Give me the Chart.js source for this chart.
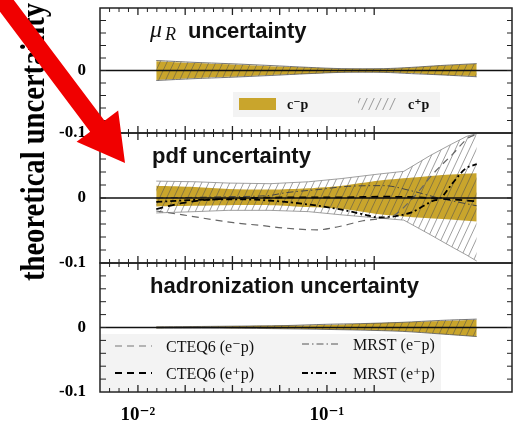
<!DOCTYPE html>
<html>
<head>
<meta charset="utf-8">
<script src="https://cdn.jsdelivr.net/npm/chart.js@4.4.1/dist/chart.umd.min.js"></script>
<style>
  html, body { margin: 0; padding: 0; background: #fff; }
  #wrap { width: 516px; height: 421px; }
</style>
</head>
<body>
<div id="wrap"><canvas id="graph" width="516" height="421"></canvas></div>
<script>
// -------------------------
// DATA
// -------------------------
const xLabelTicks = [0.01, 0.1];
const xLabelText = ["10\u207B\u00B2", "10\u207B\u00B9"];
const yLabelTicks = [-0.1, 0];

// mu_R uncertainty
const muX    = [0.0125, 0.02, 0.03, 0.05, 0.08, 0.12, 0.2, 0.28, 0.4, 0.62];
const muCmUp = [0.015, 0.012, 0.010, 0.007, 0.005, 0.003, 0.003, 0.005, 0.008, 0.011];
const muCmLo = [-0.015, -0.012, -0.010, -0.007, -0.005, -0.003, -0.003, -0.004, -0.007, -0.009];
const muCpUp = [0.016, 0.013, 0.011, 0.008, 0.005, 0.003, 0.003, 0.005, 0.008, 0.011];
const muCpLo = [-0.016, -0.013, -0.011, -0.008, -0.005, -0.003, -0.003, -0.005, -0.007, -0.010];

// pdf uncertainty
const pdfX      = [0.0125, 0.02, 0.03, 0.05, 0.08, 0.12, 0.19, 0.3, 0.45, 0.62];
const pdfCmUp   = [0.019, 0.017, 0.014, 0.013, 0.015, 0.019, 0.027, 0.032, 0.036, 0.038];
const pdfCmLo   = [-0.013, -0.012, -0.011, -0.011, -0.014, -0.017, -0.025, -0.030, -0.033, -0.036];
const pdfEnvX   = [0.0125, 0.02, 0.03, 0.05, 0.08, 0.12, 0.19, 0.255, 0.35, 0.45, 0.55, 0.62];
const pdfCpUp   = [0.026, 0.025, 0.023, 0.022, 0.025, 0.030, 0.037, 0.041, 0.065, 0.082, 0.095, 0.099];
const pdfCpLo   = [-0.023, -0.021, -0.019, -0.019, -0.021, -0.026, -0.031, -0.034, -0.056, -0.074, -0.088, -0.097];

const cteqMinusX = [0.0125, 0.0173, 0.032, 0.044, 0.0585, 0.0885, 0.12, 0.155, 0.19, 0.223, 0.285, 0.364, 0.464, 0.557, 0.62];
const cteqMinusY = [-0.020, -0.026, -0.038, -0.042, -0.046, -0.049, -0.043, -0.035, -0.032, -0.028, 0.0, 0.037, 0.068, 0.092, 0.098];
const cteqPlusX  = [0.0125, 0.017, 0.025, 0.04, 0.07, 0.12, 0.2, 0.3, 0.45, 0.62];
const cteqPlusY  = [-0.017, -0.008, -0.002, 0.0, 0.001, 0.001, 0.002, 0.001, -0.002, -0.005];
const mrstMinusX = [0.0125, 0.03, 0.05, 0.06, 0.09, 0.13, 0.2, 0.28, 0.39, 0.62];
const mrstMinusY = [0.0, 0.002, 0.004, 0.008, 0.013, 0.018, 0.019, 0.011, 0.0, -0.012];
const mrstPlusX  = [0.0125, 0.02, 0.035, 0.06, 0.09, 0.12, 0.16, 0.19, 0.23, 0.28, 0.36, 0.40, 0.46, 0.54, 0.62];
const mrstPlusY  = [-0.006, -0.003, -0.002, -0.006, -0.012, -0.018, -0.026, -0.030, -0.028, -0.022, -0.005, 0.0, 0.022, 0.045, 0.052];

// hadronization uncertainty
const hadX    = [0.0125, 0.03, 0.06, 0.1, 0.15, 0.25, 0.4, 0.62];
const hadCmUp = [0.001, 0.002, 0.003, 0.004, 0.006, 0.008, 0.010, 0.012];
const hadCmLo = [-0.001, -0.001, -0.002, -0.003, -0.004, -0.006, -0.010, -0.014];
const hadCpUp = [0.001, 0.002, 0.003, 0.005, 0.006, 0.008, 0.011, 0.013];
const hadCpLo = [-0.001, -0.001, -0.002, -0.003, -0.004, -0.006, -0.010, -0.014];

const GOLD = "#c9a52c";
const SERIF = '"Liberation Serif", "DejaVu Serif", serif';
const SANS = '"Liberation Sans", Arial, sans-serif';

// -------------------------
// HELPERS
// -------------------------
function makeHatch() {
  const c = document.createElement("canvas");
  c.width = 7; c.height = 15;
  const g = c.getContext("2d");
  g.strokeStyle = "rgba(80,80,80,0.7)";
  g.lineWidth = 0.8;
  for (const dx of [-7, 0, 7]) {
    g.beginPath();
    g.moveTo(dx, 15);
    g.lineTo(dx + 7, 0);
    g.stroke();
  }
  return g.createPattern(c, "repeat");
}
const hatch = makeHatch();

function pts(xs, ys) {
  return xs.map((x, i) => ({ x: x, y: ys[i] }));
}

function band(xs, lo, up, axis, bg, edge, order, tension) {
  const common = {
    yAxisID: axis, pointRadius: 0, order: order, tension: tension,
    borderWidth: edge ? 0.8 : 0, borderColor: edge || "rgba(0,0,0,0)"
  };
  return [
    Object.assign({}, common, { data: pts(xs, lo), fill: false }),
    Object.assign({}, common, { data: pts(xs, up), fill: "-1", backgroundColor: bg })
  ];
}

function curve(xs, ys, color, width, dash) {
  return {
    yAxisID: "yPdf", data: pts(xs, ys), pointRadius: 0, order: 1,
    borderColor: color, borderWidth: width, borderDash: dash,
    fill: false, cubicInterpolationMode: "monotone"
  };
}

function yAxis(weight) {
  return {
    type: "linear", position: "left", stack: "panels", stackWeight: weight,
    min: -0.1, max: 0.1,
    grid: { display: false, drawTicks: false },
    border: { display: false },
    afterBuildTicks: s => { s.ticks = yLabelTicks.map(v => ({ value: v })); },
    afterFit: s => { s.width = 100; s.paddingTop = 0; s.paddingBottom = 0; },
    ticks: {
      padding: 14, color: "#000",
      font: { family: SERIF, size: 17, weight: "bold" },
      callback: v => (v === 0 ? "0" : "-0.1")
    }
  };
}

// -------------------------
// DECORATION PLUGIN
// -------------------------
const panelsPlugin = {
  id: "panels",
  beforeDatasetsDraw(chart) {
    const { ctx, chartArea: a } = chart;
    const sMu = chart.scales.yMu, sHad = chart.scales.yHad;
    ctx.save();
    ctx.fillStyle = "#f3f3f3";
    ctx.fillRect(233, sMu.top + 84, 207, 25);
    ctx.fillRect(a.left + 1, sHad.top + 71, 340, sHad.bottom - sHad.top - 72);
    ctx.restore();
  },
  afterDatasetsDraw(chart) {
    const { ctx, chartArea: a } = chart;
    const sx = chart.scales.x;
    const panels = [chart.scales.yMu, chart.scales.yPdf, chart.scales.yHad];
    ctx.save();

    // zero lines
    ctx.strokeStyle = "#111";
    ctx.lineWidth = 1.5;
    panels.forEach(s => {
      const y = s.getPixelForValue(0);
      ctx.beginPath(); ctx.moveTo(a.left, y); ctx.lineTo(a.right, y); ctx.stroke();
    });

    // frames
    ctx.lineWidth = 1.5;
    ctx.strokeStyle = "#222";
    panels.forEach(s => ctx.strokeRect(a.left, s.top, a.right - a.left, s.bottom - s.top));

    // y ticks (inside, left and right)
    ctx.lineWidth = 1;
    panels.forEach(s => {
      for (let k = -4; k <= 4; k++) {
        const y = s.getPixelForValue(k * 0.02);
        ctx.beginPath();
        ctx.moveTo(a.left, y); ctx.lineTo(a.left + 6, y);
        ctx.moveTo(a.right, y); ctx.lineTo(a.right - 5, y);
        ctx.stroke();
      }
    });

    // x ticks on every horizontal border
    const borders = [
      { y: panels[0].top, up: false, down: true },
      { y: panels[0].bottom, up: true, down: true },
      { y: panels[1].bottom, up: true, down: true },
      { y: panels[2].bottom, up: true, down: false }
    ];
    for (let k = -5; k <= 25; k++) {
      const px = sx.getPixelForValue(Math.pow(10, -2 + k / 20));
      if (px <= a.left + 1 || px >= a.right - 1) continue;
      const len = k % 5 === 0 ? 7 : 4;
      ctx.lineWidth = k % 5 === 0 ? 1.3 : 1;
      borders.forEach(b => {
        ctx.beginPath();
        ctx.moveTo(px, b.up ? b.y - len : b.y);
        ctx.lineTo(px, b.down ? b.y + len : b.y);
        ctx.stroke();
      });
    }

    // panel titles
    ctx.fillStyle = "#111";
    ctx.textBaseline = "alphabetic";
    ctx.textAlign = "left";
    ctx.font = "italic 24px " + SERIF;
    ctx.fillText("\u03BC", 150, panels[0].top + 29);
    ctx.font = "italic 18px " + SERIF;
    ctx.fillText("R", 165, panels[0].top + 32);
    ctx.font = "bold 22px " + SANS;
    ctx.fillText("uncertainty", 188, panels[0].top + 30);
    ctx.fillText("pdf uncertainty", 152, panels[1].top + 30);
    ctx.fillText("hadronization uncertainty", 150, panels[2].top + 30);

    // legend of mu_R panel
    const ly = panels[0].top + 90;
    ctx.fillStyle = GOLD;
    ctx.fillRect(239, ly, 37, 12);
    ctx.fillStyle = hatch;
    ctx.fillRect(358, ly, 38, 12);
    ctx.fillStyle = "#111";
    ctx.font = "bold 14px " + SERIF;
    ctx.fillText("c\u207Bp", 287, ly + 11);
    ctx.fillText("c\u207Ap", 408, ly + 11);

    // legend of hadronization panel
    const hy = panels[2].top;
    const entries = [
      { x: 115, y: hy + 83, color: "#777", w: 1.2, dash: [7, 5], text: "CTEQ6 (e\u207Bp)" },
      { x: 115, y: hy + 110, color: "#000", w: 2, dash: [7, 5], text: "CTEQ6 (e\u207Ap)" },
      { x: 302, y: hy + 81, color: "#555", w: 1, dash: [7, 3, 1.5, 3], text: "MRST (e\u207Bp)" },
      { x: 302, y: hy + 110, color: "#000", w: 2, dash: [6, 3, 2, 3], text: "MRST (e\u207Ap)" }
    ];
    ctx.font = "16px " + SERIF;
    entries.forEach(e => {
      ctx.strokeStyle = e.color;
      ctx.lineWidth = e.w;
      ctx.setLineDash(e.dash);
      ctx.beginPath(); ctx.moveTo(e.x, e.y); ctx.lineTo(e.x + 37, e.y); ctx.stroke();
      ctx.setLineDash([]);
      ctx.fillText(e.text, e.x + 51, e.y + 6);
    });
    ctx.restore();
  },
  afterDraw(chart) {
    const { ctx } = chart;
    ctx.save();
    // y title, rotated
    const txt = "theoretical uncertainty";
    ctx.font = "bold 34px " + SERIF;
    const w = ctx.measureText(txt).width;
    ctx.translate(44, 281);
    ctx.rotate(-Math.PI / 2);
    ctx.scale(278 / w, 1);
    ctx.fillStyle = "#000";
    ctx.textBaseline = "alphabetic";
    ctx.fillText(txt, 0, 0);
    ctx.restore();

    // red arrow
    ctx.save();
    const S = { x: -8, y: -14 }, T = { x: 125, y: 163 };
    const L = Math.hypot(T.x - S.x, T.y - S.y);
    const u = { x: (T.x - S.x) / L, y: (T.y - S.y) / L };
    const n = { x: -u.y, y: u.x };
    const B = { x: T.x - u.x * 46, y: T.y - u.y * 46 };
    const hw = 9, hh = 26;
    ctx.fillStyle = "#f00000";
    ctx.beginPath();
    ctx.moveTo(S.x + n.x * hw, S.y + n.y * hw);
    ctx.lineTo(B.x + n.x * hw, B.y + n.y * hw);
    ctx.lineTo(B.x + n.x * hh, B.y + n.y * hh);
    ctx.lineTo(T.x, T.y);
    ctx.lineTo(B.x - n.x * hh, B.y - n.y * hh);
    ctx.lineTo(B.x - n.x * hw, B.y - n.y * hw);
    ctx.lineTo(S.x - n.x * hw, S.y - n.y * hw);
    ctx.closePath();
    ctx.fill();
    ctx.restore();
  }
};

// -------------------------
// INIT CHART
// -------------------------
const datasets = [].concat(
  band(muX, muCmLo, muCmUp, "yMu", GOLD, null, 3, 0.3),
  band(muX, muCpLo, muCpUp, "yMu", hatch, "#555", 2, 0.3),
  band(pdfX, pdfCmLo, pdfCmUp, "yPdf", GOLD, null, 3, 0.3),
  band(pdfEnvX, pdfCpLo, pdfCpUp, "yPdf", hatch, "#888", 2, 0),
  band(hadX, hadCmLo, hadCmUp, "yHad", GOLD, null, 3, 0.3),
  band(hadX, hadCpLo, hadCpUp, "yHad", hatch, "#555", 2, 0.3),
  [
    curve(cteqMinusX, cteqMinusY, "#666", 1.2, [7, 5]),
    curve(cteqPlusX, cteqPlusY, "#000", 1.8, [7, 5]),
    curve(mrstMinusX, mrstMinusY, "#444", 1, [7, 3, 1.5, 3]),
    curve(mrstPlusX, mrstPlusY, "#000", 1.8, [6, 3, 2, 3])
  ]
);

const chart = new Chart(document.getElementById("graph").getContext("2d"), {
  type: "line",
  data: { datasets: datasets },
  plugins: [panelsPlugin],
  options: {
    responsive: false,
    animation: false,
    devicePixelRatio: 1,
    layout: { padding: { top: 8, right: 4, left: 0, bottom: 0 } },
    plugins: { legend: { display: false }, tooltip: { enabled: false } },
    scales: {
      x: {
        type: "logarithmic", min: 0.0063, max: 0.953,
        grid: { display: false, drawTicks: false },
        border: { display: false },
        afterBuildTicks: s => { s.ticks = xLabelTicks.map(v => ({ value: v })); },
        afterFit: s => { s.height = 29; s.paddingLeft = 0; s.paddingRight = 0; },
        ticks: {
          padding: 12, color: "#000", maxRotation: 0, autoSkip: false,
          font: { family: SERIF, size: 19, weight: "bold" },
          callback: (v, i) => xLabelText[i]
        }
      },
      yHad: yAxis(129),
      yPdf: yAxis(130),
      yMu: yAxis(125)
    }
  }
});
</script>
</body>
</html>
